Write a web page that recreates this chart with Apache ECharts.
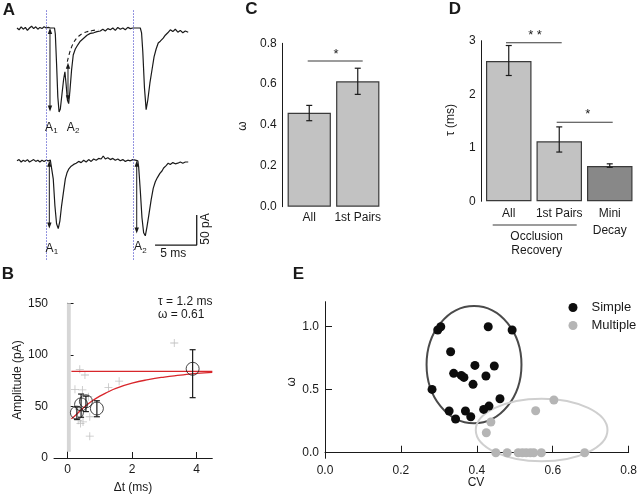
<!DOCTYPE html>
<html><head><meta charset="utf-8">
<script src="https://cdn.jsdelivr.net/npm/echarts@6/dist/echarts.min.js"></script>
<style>html,body{margin:0;padding:0;background:#fff}#c{width:640px;height:496px}</style>
</head><body><div id="c"></div>
<script>
const FONT = '"Liberation Sans", Arial, Helvetica, sans-serif';

// ---------- Panel A: current traces [time ms, current pA] ----------
const traceTop = [[0,0],[0.25,-3],[0.5,2],[0.75,-2],[1,1],[1.25,-4],[1.5,0],[1.75,3],[2,-1],[2.25,2],[2.5,-2],[2.75,1],[3,-1],[3.25,2],[3.5,0],[3.75,1],[4,0],[4.25,0],[4.5,0],[4.6,-10],[4.75,-60],[4.9,-115],[5.05,-140],[5.2,-135],[5.4,-110],[5.6,-85],[5.75,-73],[5.9,-95],[6.05,-120],[6.2,-126],[6.35,-105],[6.55,-70],[6.75,-45],[7,-35],[7.3,-28],[7.6,-22],[8,-17],[8.4,-12],[8.8,-9],[9.2,-8],[9.6,-6],[10,-5],[10.3,-2],[10.6,-5],[10.9,-1],[11.2,-3],[11.5,0],[11.8,-4],[12.1,1],[12.4,-2],[12.7,0],[13,-3],[13.3,1],[13.6,-1],[13.9,0],[14.3,0],[14.8,0],[14.95,-8],[15.1,-40],[15.3,-100],[15.5,-136],[15.7,-120],[15.95,-92],[16.2,-70],[16.45,-48],[16.7,-35],[16.95,-25],[17.2,-22],[17.55,-17],[17.8,-12],[18.1,-8],[18.4,-3],[18.7,-6],[19,-2],[19.3,-7],[19.6,-4],[19.9,-8],[20.2,-5],[20.55,-7]];
const traceTopDashed = [[6.04,-56],[6.3,-42],[6.57,-31],[6.85,-23],[7.17,-17],[7.55,-12],[7.96,-8.5],[8.45,-6],[8.97,-4.5],[9.4,-3.5],[9.76,-3]];
const traceBottom = [[0,0],[0.25,2],[0.5,-2],[0.75,1],[1,-1],[1.25,2],[1.5,-2],[1.75,0],[2,2],[2.25,-1],[2.5,1],[2.75,-2],[3,1],[3.25,-1],[3.5,1],[3.75,0],[4,1],[4.17,0],[4.35,-30],[4.55,-75],[4.75,-105],[4.95,-113],[5.15,-100],[5.35,-75],[5.56,-54],[5.8,-30],[6.0,-20],[6.2,-14],[6.5,-9],[6.8,-6],[7.1,-4],[7.4,-1],[7.7,-3],[8,1],[8.3,-2],[8.6,2],[8.9,-1],[9.2,3],[9.5,1],[9.8,4],[10.1,3],[10.35,8],[10.6,3],[10.9,5],[11.2,2],[11.5,4],[11.8,1],[12.1,3],[12.4,0],[12.7,2],[13,-1],[13.3,1],[13.6,0],[13.9,2],[14.2,1],[14.5,0],[14.6,-10],[14.8,-50],[15.0,-95],[15.2,-120],[15.4,-125],[15.6,-110],[15.85,-88],[16.1,-65],[16.35,-46],[16.6,-35],[16.85,-28],[17.15,-21],[17.4,-17],[17.6,-12],[17.9,-8],[18.15,-4],[18.4,-6],[18.7,-3],[19,-5],[19.3,-4],[19.6,-2],[19.9,-4],[20.2,-2],[20.55,-2]];
const stimTimes = [3.48, 13.9];
const arrowsTop = [[3.96, 0, -139], [6.12, -58, -122]];   // [t, from, to]
const arrowsBottom = [[3.88, 0, -113], [14.37, 0, -121]];
const scaleBarMs = 5;
const scaleBarPA = 50;
const scaleBarOrigin = [16.57, -140.5];

// ---------- Panel B ----------
const bScatter = [[3.31,111.5],[0.38,86],[0.54,80.5],[0.23,66.6],[0.46,66],[1.27,68.5],[1.6,74.5],[0.69,21.2],[0.645,59.5],[0.36,47],[0.69,40],[0.33,36.5],[0.48,35],[0.40,33.5]];
const bMeans = [[0.29,44,37.5,49.5],[0.42,52,39.5,62],[0.57,55,45,60],[0.91,48,40,55.5],[3.88,86.5,58.5,105]]; // [x, y, lo, hi]
const bFitCurve = [[0.12,38],[0.3,43],[0.5,49],[0.75,55],[1,60],[1.25,64],[1.5,67.5],[2,72.5],[2.5,76],[3,78.5],[3.5,80.3],[4,82],[4.49,83]];
const bPlateau = [[0.12,84],[4.49,84]];
const bBand = [-0.02, 0.1, 6, 150];
const bTicksX = [0, 2, 4];
const bTicksY = [0, 50, 100, 150];

// ---------- Panel C ----------
const cCategories = ['All', '1st Pairs'];
const cValues = [0.46, 0.614];
const cErrLow = [0.421, 0.55];
const cErrHigh = [0.496, 0.678];

// ---------- Panel D ----------
const dCategories = ['All', '1st Pairs', 'Mini\nDecay'];
const dValues = [2.62, 1.12, 0.66];
const dErrLow = [2.35, 0.92, 0.635];
const dErrHigh = [2.91, 1.39, 0.70];

// ---------- Panel E ----------
const eSimple = [[0.297,0.971],[0.305,0.997],[0.430,0.997],[0.493,0.971],[0.331,0.799],[0.395,0.691],[0.446,0.686],[0.339,0.628],[0.359,0.612],[0.366,0.596],[0.424,0.607],[0.390,0.541],[0.282,0.501],[0.461,0.427],[0.327,0.330],[0.370,0.330],[0.432,0.369],[0.418,0.343],[0.344,0.267],[0.384,0.285]];
const eMultiple = [[0.603,0.417],[0.555,0.332],[0.437,0.243],[0.425,0.158],[0.450,0],[0.480,0],[0.509,0],[0.520,0],[0.530,0],[0.541,0],[0.550,0],[0.570,0],[0.684,0]];
const eEllipses = [[0.3926,0.697,0.125,0.464],[0.5707,0.18,0.1735,0.248]]; // [cx, cy, rx, ry]
const eTicksY = [0, 0.5, 1.0];

const INK = '#1a1a1a';
const lbl = {color: INK, fontSize: 12, fontFamily: FONT};
const axLine = {show: true, lineStyle: {color: INK, width: 1}};

function errRender(cap) {
  return function (params, api) {
    const x = api.value(0), lo = api.value(1), hi = api.value(2);
    const p1 = api.coord([x, lo]), p2 = api.coord([x, hi]);
    const st = {stroke: INK, lineWidth: 1.2};
    return {type: 'group', children: [
      {type: 'line', shape: {x1: p1[0], y1: p1[1], x2: p2[0], y2: p2[1]}, style: st},
      {type: 'line', shape: {x1: p1[0]-cap, y1: p1[1], x2: p1[0]+cap, y2: p1[1]}, style: st},
      {type: 'line', shape: {x1: p2[0]-cap, y1: p2[1], x2: p2[0]+cap, y2: p2[1]}, style: st}
    ]};
  };
}
function arrowRender(params, api) {
  const a = api.coord([api.value(0), api.value(1)]);
  const b = api.coord([api.value(0), api.value(2)]);
  const dir = b[1] > a[1] ? 1 : -1;
  const h = 6, w = 2.2;
  return {type: 'group', children: [
    {type: 'line', shape: {x1: a[0], y1: a[1] + dir*3, x2: b[0], y2: b[1] - dir*3}, style: {stroke: INK, lineWidth: 1}},
    {type: 'polygon', shape: {points: [[a[0], a[1]], [a[0]-w, a[1]+dir*h], [a[0]+w, a[1]+dir*h]]}, style: {fill: INK}},
    {type: 'polygon', shape: {points: [[b[0], b[1]], [b[0]-w, b[1]-dir*h], [b[0]+w, b[1]-dir*h]]}, style: {fill: INK}}
  ]};
}
function ellipseRender(params, api) {
  const c = api.coord([api.value(0), api.value(1)]);
  const s = api.size([api.value(2), api.value(3)]);
  const colors = ['#4a4a4a', '#cfcfcf'];
  return {type: 'ellipse', shape: {cx: c[0], cy: c[1], rx: s[0], ry: s[1]},
    style: {fill: 'none', stroke: colors[params.dataIndex], lineWidth: 2}};
}

const stimMarkLine = {
  silent: true, symbol: 'none', label: {show: false},
  lineStyle: {color: '#7272d6', type: [1.5, 1.5], width: 1},
  data: stimTimes.map(t => ({xAxis: t}))
};

const option = {
  animation: false,
  backgroundColor: '#fff',
  textStyle: {fontFamily: FONT},
  grid: [
    {left: 17, top: 10, width: 183.3, height: 124.8},
    {left: 17, top: 135, width: 183.3, height: 124.8},
    {left: 54, top: 303.3, width: 158.3, height: 154.7},
    {left: 285, top: 43.3, width: 97, height: 163.4},
    {left: 483.5, top: 40.7, width: 151.5, height: 160.6},
    {left: 325, top: 301.7, width: 304, height: 156.6}
  ],
  xAxis: [
    {gridIndex: 0, type: 'value', min: 0, max: 22, show: false},
    {gridIndex: 1, type: 'value', min: 0, max: 22, show: false},
    {gridIndex: 2, type: 'value', min: -0.42, max: 4.49, axisLine: axLine, splitLine: {show: false},
      axisTick: {inside: true, length: 6, lineStyle: {color: INK}, customValues: bTicksX},
      axisLabel: Object.assign({margin: 6, customValues: bTicksX}, lbl)},
    {gridIndex: 3, type: 'category', data: cCategories, axisLine: {show: false}, axisTick: {show: false},
      axisLabel: Object.assign({margin: 5, interval: 0, hideOverlap: false}, lbl)},
    {gridIndex: 4, type: 'category', data: dCategories, axisLine: {show: false}, axisTick: {show: false},
      axisLabel: Object.assign({margin: 4, lineHeight: 17, interval: 0, hideOverlap: false}, lbl)},
    {gridIndex: 5, type: 'value', min: 0, max: 0.8, interval: 0.2, axisLine: axLine, splitLine: {show: false},
      axisTick: {inside: true, length: 7, lineStyle: {color: INK}},
      axisLabel: Object.assign({margin: 6, formatter: v => v.toFixed(1)}, lbl)}
  ],
  yAxis: [
    {gridIndex: 0, type: 'value', min: -178, max: 30, show: false},
    {gridIndex: 1, type: 'value', min: -165, max: 43, show: false},
    {gridIndex: 2, type: 'value', min: 0, max: 150, axisLine: axLine, splitLine: {show: false},
      axisTick: {inside: true, length: 6, lineStyle: {color: INK}, customValues: bTicksY},
      axisLabel: Object.assign({margin: 6, customValues: bTicksY}, lbl)},
    {gridIndex: 3, type: 'value', min: 0, max: 0.8, interval: 0.2, offset: 2.3, axisLine: axLine, splitLine: {show: false},
      axisTick: {length: 6, lineStyle: {color: INK}},
      axisLabel: Object.assign({margin: 6, formatter: v => v.toFixed(1)}, lbl)},
    {gridIndex: 4, type: 'value', min: 0, max: 3, interval: 1, offset: 1.8, axisLine: axLine, splitLine: {show: false},
      axisTick: {length: 7, lineStyle: {color: INK}},
      axisLabel: Object.assign({margin: 6}, lbl)},
    {gridIndex: 5, type: 'value', min: -0.044, max: 1.195, axisLine: axLine, splitLine: {show: false},
      axisTick: {inside: true, length: 7, lineStyle: {color: INK}, customValues: eTicksY},
      axisLabel: Object.assign({margin: 6, customValues: eTicksY, formatter: v => v.toFixed(1)}, lbl)}
  ],
  legend: {
    left: 563.5, top: 296, orient: 'vertical', itemGap: 5, itemWidth: 9, itemHeight: 9,
    icon: 'circle', selectedMode: false,
    textStyle: {fontSize: 13, color: INK, fontFamily: FONT, padding: [0, 0, 0, 9]},
    data: ['Simple', 'Multiple']
  },
  series: [
    // Panel A top
    {type: 'line', xAxisIndex: 0, yAxisIndex: 0, data: traceTop, showSymbol: false, silent: true,
      lineStyle: {color: INK, width: 1.2}, markLine: stimMarkLine},
    {type: 'line', xAxisIndex: 0, yAxisIndex: 0, data: traceTopDashed, showSymbol: false, smooth: true, silent: true,
      lineStyle: {color: INK, width: 1.1, type: [4, 3]}},
    {type: 'custom', xAxisIndex: 0, yAxisIndex: 0, data: arrowsTop, renderItem: arrowRender, silent: true},
    // Panel A bottom
    {type: 'line', xAxisIndex: 1, yAxisIndex: 1, data: traceBottom, showSymbol: false, silent: true,
      lineStyle: {color: INK, width: 1.2}, markLine: stimMarkLine},
    {type: 'custom', xAxisIndex: 1, yAxisIndex: 1, data: arrowsBottom, renderItem: arrowRender, silent: true},
    {type: 'line', xAxisIndex: 1, yAxisIndex: 1, showSymbol: false, silent: true,
      data: [[scaleBarOrigin[0], scaleBarOrigin[1]], [scaleBarOrigin[0] + scaleBarMs, scaleBarOrigin[1]], [scaleBarOrigin[0] + scaleBarMs, scaleBarOrigin[1] + scaleBarPA]],
      lineStyle: {color: INK, width: 1.3}},
    // Panel B
    {type: 'scatter', xAxisIndex: 2, yAxisIndex: 2, data: bScatter, silent: true,
      symbol: 'path://M3.6,0h0.8v8h-0.8z M0,3.6h8v0.8h-8z', symbolSize: 8,
      itemStyle: {color: '#b3b3b3'},
      markArea: {silent: true, itemStyle: {color: '#d6d6d6'},
        data: [[{coord: [bBand[0], bBand[2]]}, {coord: [bBand[1], bBand[3]]}]]}},
    {type: 'line', xAxisIndex: 2, yAxisIndex: 2, data: bPlateau, showSymbol: false, silent: true,
      lineStyle: {color: '#d8262b', width: 1.3}},
    {type: 'line', xAxisIndex: 2, yAxisIndex: 2, data: bFitCurve, showSymbol: false, smooth: true, silent: true,
      lineStyle: {color: '#d8262b', width: 1.3}},
    {type: 'custom', xAxisIndex: 2, yAxisIndex: 2, data: bMeans.map(r => [r[0], r[2], r[3]]),
      renderItem: errRender(3), silent: true, z: 4},
    {type: 'scatter', xAxisIndex: 2, yAxisIndex: 2, data: bMeans.map(r => [r[0], r[1]]), silent: true,
      symbol: 'circle', symbolSize: 13, z: 5,
      itemStyle: {color: 'rgba(0,0,0,0)', borderColor: INK, borderWidth: 1}},
    // Panel C
    {type: 'bar', xAxisIndex: 3, yAxisIndex: 3, data: cValues, barWidth: 43.3, silent: true,
      itemStyle: {color: '#c2c2c2', borderColor: '#3a3a3a', borderWidth: 1.2}},
    {type: 'custom', xAxisIndex: 3, yAxisIndex: 3, data: cCategories.map((c, i) => [i, cErrLow[i], cErrHigh[i]]),
      renderItem: errRender(3), silent: true, z: 5},
    // Panel D
    {type: 'bar', xAxisIndex: 4, yAxisIndex: 4, barWidth: 45.5, silent: true,
      data: dValues.map((v, i) => ({value: v, itemStyle: {color: i === 2 ? '#888888' : '#c2c2c2'}})),
      itemStyle: {borderColor: '#3a3a3a', borderWidth: 1.2}},
    {type: 'custom', xAxisIndex: 4, yAxisIndex: 4, data: dCategories.map((c, i) => [i, dErrLow[i], dErrHigh[i]]),
      renderItem: errRender(3), silent: true, z: 5},
    // Panel E
    {type: 'custom', xAxisIndex: 5, yAxisIndex: 5, data: eEllipses, renderItem: ellipseRender, silent: true, z: 1},
    {name: 'Simple', type: 'scatter', xAxisIndex: 5, yAxisIndex: 5, data: eSimple, symbolSize: 9, silent: true, z: 3,
      itemStyle: {color: '#0d0d0d', opacity: 1}},
    {name: 'Multiple', type: 'scatter', xAxisIndex: 5, yAxisIndex: 5, data: eMultiple, symbolSize: 9, silent: true, z: 3,
      itemStyle: {color: '#b5b5b5', opacity: 1}}
  ],
  graphic: []
};

function txt(x, y, s, o) {
  o = o || {};
  return {type: 'text', x: x, y: y, rotation: o.rot || 0, silent: true, z: 100,
    style: {text: s, fill: INK, fontSize: o.size || 12, fontFamily: FONT, fontWeight: o.bold ? 'bold' : 'normal',
      align: o.align || 'center', verticalAlign: 'middle'}};
}
function seg(x1, y1, x2, y2, col) {
  return {type: 'line', silent: true, z: 100, shape: {x1: x1, y1: y1, x2: x2, y2: y2},
    style: {stroke: col || '#3a3a3a', lineWidth: 1.1}};
}
const g = option.graphic;
// panel letters
g.push(txt(9, 10, 'A', {bold: true, size: 17}));
g.push(txt(8, 274, 'B', {bold: true, size: 17}));
g.push(txt(251.5, 9.5, 'C', {bold: true, size: 17}));
g.push(txt(455, 9.5, 'D', {bold: true, size: 17}));
g.push(txt(298.3, 274, 'E', {bold: true, size: 17}));
// A labels
g.push(txt(45, 127.5, 'A', {align: 'left'}), txt(53.3, 131, '1', {align: 'left', size: 8}));
g.push(txt(66.7, 127.5, 'A', {align: 'left'}), txt(75, 131, '2', {align: 'left', size: 8}));
g.push(txt(45.5, 248.5, 'A', {align: 'left'}), txt(53.8, 252, '1', {align: 'left', size: 8}));
g.push(txt(134, 247, 'A', {align: 'left'}), txt(142.3, 250.5, '2', {align: 'left', size: 8}));
g.push(txt(173.3, 253.5, '5 ms'));
g.push(txt(205.5, 229, '50 pA', {rot: Math.PI / 2}));
// B texts
g.push(txt(158, 301.7, 'τ = 1.2 ms', {align: 'left'}));
g.push(txt(158, 315, 'ω = 0.61', {align: 'left'}));
g.push(txt(18, 380, 'Amplitude (pA)', {rot: Math.PI / 2}));
g.push(txt(133, 488, 'Δt (ms)'));
// C
g.push(txt(243, 126, 'ω', {rot: Math.PI / 2}));
g.push(seg(307.7, 61, 362.7, 61));
g.push(txt(336, 54, '*', {size: 13}));
// D
g.push(txt(450.7, 120, 'τ (ms)', {rot: Math.PI / 2}));
g.push(seg(506, 42.7, 561.7, 42.7));
g.push(txt(535, 35, '* *', {size: 13}));
g.push(seg(556.7, 122.3, 612.7, 122.3));
g.push(txt(587.7, 114.5, '*', {size: 13}));
g.push(seg(492.7, 225, 576.7, 225));
g.push(txt(536.7, 236.7, 'Occlusion'));
g.push(txt(536.7, 250.7, 'Recovery'));
// E
g.push(txt(291.7, 381.7, 'ω', {rot: Math.PI / 2}));
g.push(txt(476, 483, 'CV'));

const chart = echarts.init(document.getElementById('c'), null, {renderer: 'canvas'});
chart.setOption(option);
</script></body></html>
